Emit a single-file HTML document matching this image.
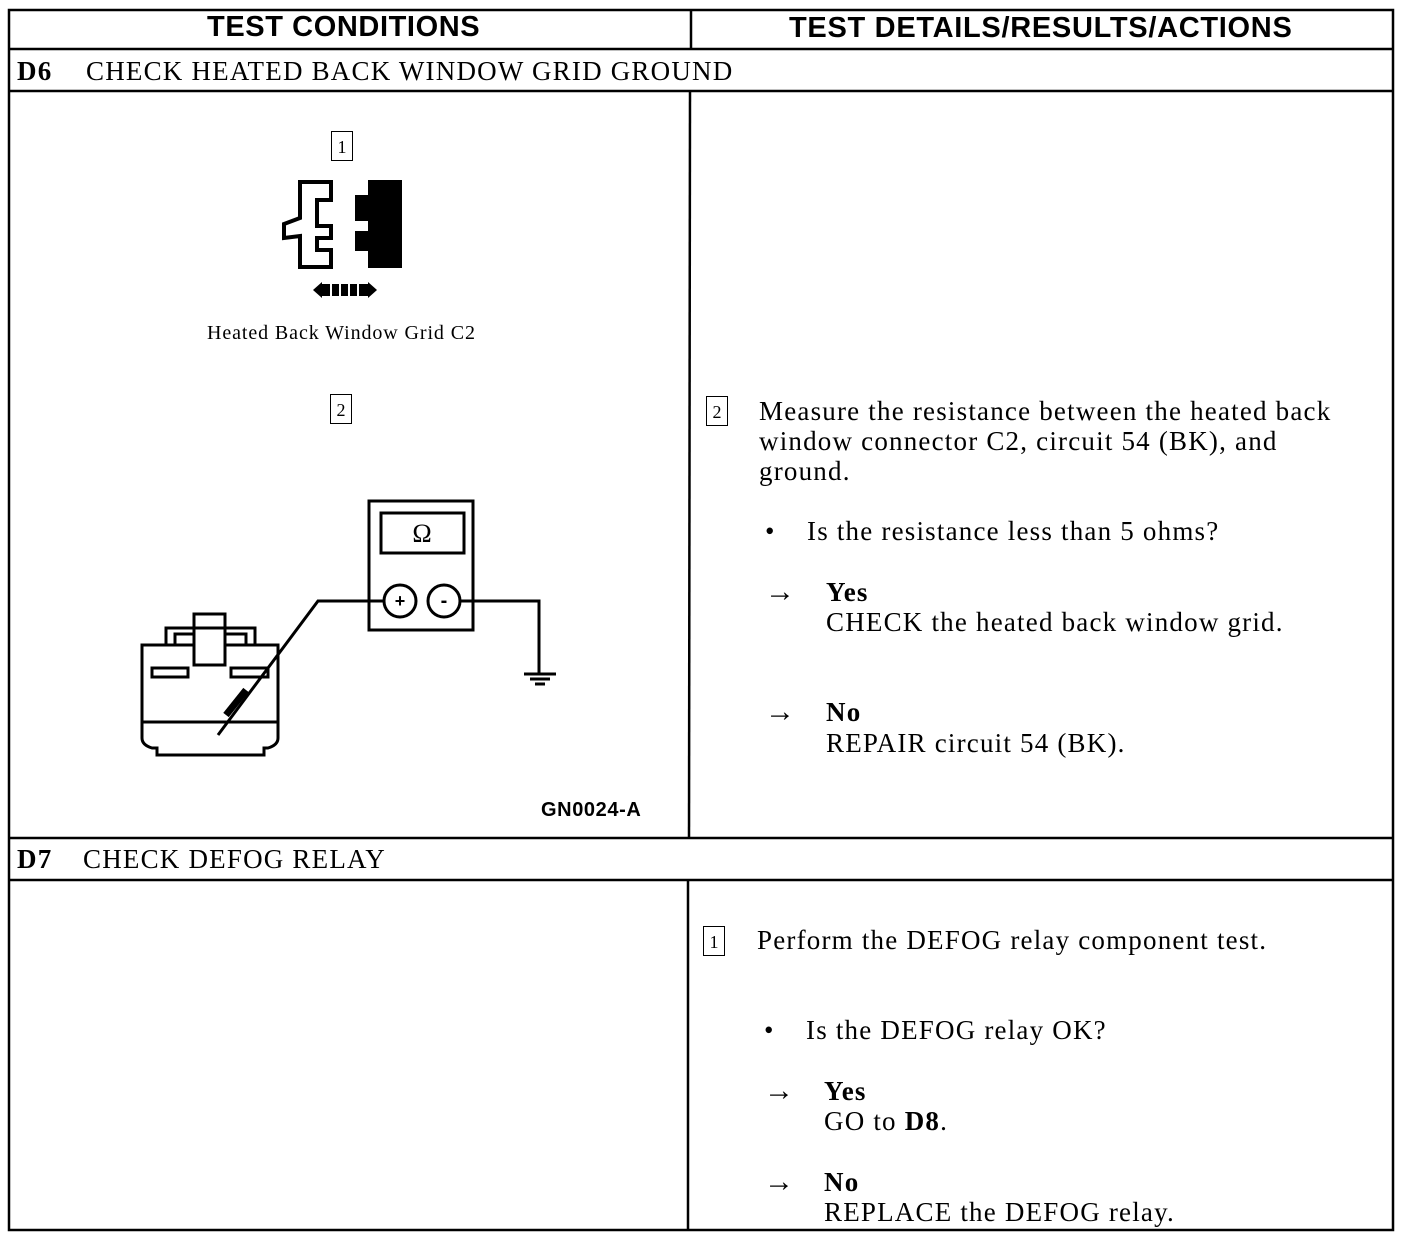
<!DOCTYPE html>
<html><head><style>
body{margin:0;background:#fff;width:1408px;height:1240px;position:relative;overflow:hidden;font-family:"Liberation Serif",serif;color:#000}
.t{position:absolute;white-space:nowrap;font-size:27px;line-height:30px;letter-spacing:1.2px}
.h{position:absolute;font-family:"Liberation Sans",sans-serif;font-weight:bold;font-size:29px;letter-spacing:0.6px;white-space:nowrap}
.bx{position:absolute;border:1.5px solid #000;width:22px;height:30px;font-size:18px;text-align:center;line-height:30px;box-sizing:border-box}
.a{position:absolute;font-size:30px;line-height:30px}
</style></head><body>
<svg width="1408" height="1240" style="position:absolute;left:0;top:0" fill="none" stroke="#000">
<g stroke-width="2.5">
<rect x="9" y="10" width="1384" height="1220"/>
<line x1="9" y1="49" x2="1393" y2="49"/>
<line x1="9" y1="91" x2="1393" y2="91"/>
<line x1="9" y1="838" x2="1393" y2="838"/>
<line x1="9" y1="880" x2="1393" y2="880"/>
<line x1="691" y1="10" x2="691" y2="49"/>
<line x1="690" y1="91" x2="689" y2="838"/>
<line x1="688" y1="880" x2="688" y2="1230"/>
</g>
<!-- top connector -->
<path d="M300 182 H331 V200 H317 V226 H331 V238 H317 V250 H331 V267 H300 V236 L284 238 L284 224 L300 218 Z" stroke-width="4"/>
<path d="M368 180 H402 V268 H368 V251 H355 V231 H368 V221 H355 V195 H368 Z" fill="#000" stroke="none"/>
<path d="M313 290 L322 282 V298 Z M377 290 L368 282 V298 Z" fill="#000" stroke="none"/>
<rect x="322" y="284" width="46" height="12" fill="#000" stroke="none"/>
<g stroke="#fff" stroke-width="2"><line x1="331" y1="284" x2="331" y2="296"/><line x1="340" y1="284" x2="340" y2="296"/><line x1="349" y1="284" x2="349" y2="296"/><line x1="358" y1="284" x2="358" y2="296"/></g>
<!-- meter -->
<g stroke-width="3">
<rect x="369" y="501" width="104" height="129"/>
<rect x="381" y="513" width="83" height="40"/>
<circle cx="400" cy="601" r="16"/>
<circle cx="444" cy="601" r="16"/>
<polyline points="384,601 318,601 218,735"/>
<polyline points="460,601 539,601 539,673"/>
<line x1="524" y1="674" x2="556" y2="674"/>
<line x1="530" y1="679" x2="550" y2="679"/>
<line x1="535" y1="684" x2="545" y2="684"/>
<path d="M142 738 V645 H278 V738 Q278 745 268 748 H264 V755 H157 V748 H152 Q142 745 142 738 Z"/>
<line x1="142" y1="722" x2="278" y2="722"/>
<path d="M166 645 V628 H194 V614 H225 V628 H255 V645"/>
<rect x="175" y="634" width="19" height="11"/><rect x="225" y="634" width="21" height="11"/>
<rect x="194" y="628" width="31" height="37" fill="#fff"/>
<rect x="152" y="668" width="36" height="9"/><rect x="231" y="668" width="37" height="9"/>
</g>
<line x1="226" y1="715" x2="246" y2="690" stroke-width="7"/>
<text x="400" y="607" font-size="18" font-weight="bold" fill="#000" stroke="none" text-anchor="middle" font-family="Liberation Sans">+</text>
<text x="444" y="607" font-size="20" font-weight="bold" fill="#000" stroke="none" text-anchor="middle" font-family="Liberation Sans">-</text>
<text x="422" y="542" font-size="26" fill="#000" stroke="none" text-anchor="middle" font-family="Liberation Serif">Ω</text>
</svg>
<div class="h" style="left:207px;top:11px">TEST CONDITIONS</div>
<div class="h" style="left:789px;top:12px;letter-spacing:0.7px">TEST DETAILS/RESULTS/ACTIONS</div>
<div class="t" style="left:17px;top:56px"><b>D6</b></div>
<div class="t" style="left:86px;top:56px">CHECK HEATED BACK WINDOW GRID GROUND</div>
<div class="t" style="left:17px;top:844px"><b>D7</b></div>
<div class="t" style="left:83px;top:844px">CHECK DEFOG RELAY</div>
<div class="bx" style="left:331px;top:131px">1</div>
<div class="t" style="left:207px;top:318px;font-size:20px;letter-spacing:0.9px">Heated Back Window Grid C2</div>
<div class="bx" style="left:330px;top:394px">2</div>
<div class="t" style="left:541px;top:795px;font-family:'Liberation Sans',sans-serif;font-weight:bold;font-size:20px;letter-spacing:0.6px">GN0024-A</div>
<div class="bx" style="left:706px;top:396px">2</div>
<div class="t" style="left:759px;top:396px">Measure the resistance between the heated back</div>
<div class="t" style="left:759px;top:426px">window connector C2, circuit 54 (BK), and</div>
<div class="t" style="left:759px;top:456px">ground.</div>
<div class="t" style="left:765px;top:516px">•</div>
<div class="t" style="left:807px;top:516px">Is the resistance less than 5 ohms?</div>
<div class="a" style="left:765px;top:577px">→</div>
<div class="t" style="left:826px;top:577px"><b>Yes</b></div>
<div class="t" style="left:826px;top:607px">CHECK the heated back window grid.</div>
<div class="a" style="left:765px;top:697px">→</div>
<div class="t" style="left:826px;top:697px"><b>No</b></div>
<div class="t" style="left:826px;top:728px">REPAIR circuit 54 (BK).</div>
<div class="bx" style="left:703px;top:926px">1</div>
<div class="t" style="left:757px;top:925px">Perform the DEFOG relay component test.</div>
<div class="t" style="left:764px;top:1015px">•</div>
<div class="t" style="left:806px;top:1015px">Is the DEFOG relay OK?</div>
<div class="a" style="left:764px;top:1076px">→</div>
<div class="t" style="left:824px;top:1076px"><b>Yes</b></div>
<div class="t" style="left:824px;top:1106px">GO to <b>D8</b>.</div>
<div class="a" style="left:764px;top:1167px">→</div>
<div class="t" style="left:824px;top:1167px"><b>No</b></div>
<div class="t" style="left:824px;top:1197px">REPLACE the DEFOG relay.</div>
</body></html>
